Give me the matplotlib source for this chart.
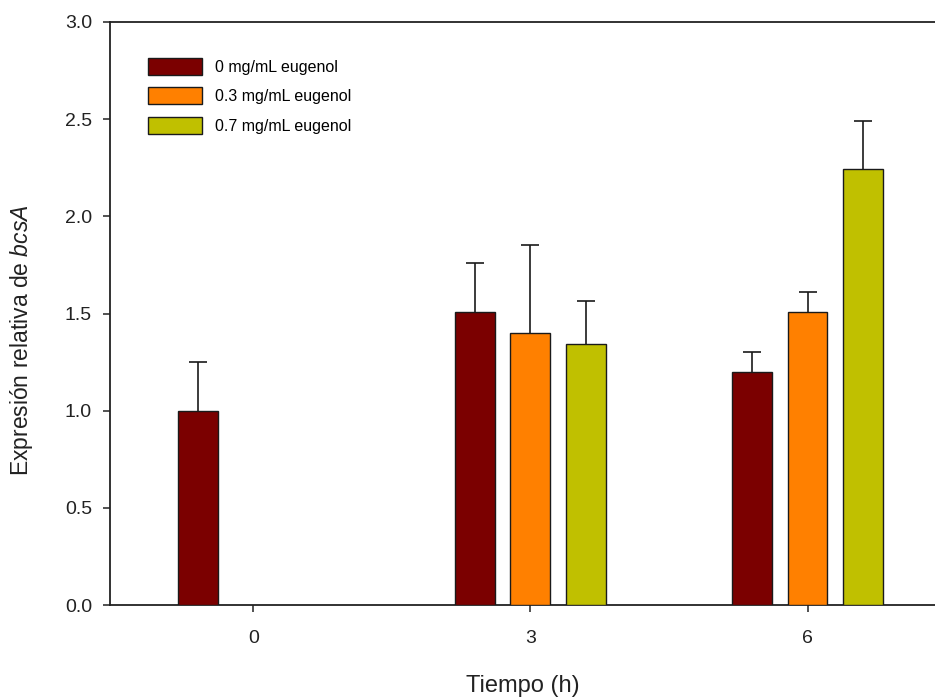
import numpy as np
import matplotlib
matplotlib.use("Agg")
import matplotlib.pyplot as plt

plt.rcParams["font.family"] = ["Liberation Sans", "DejaVu Sans"]
plt.rcParams["mathtext.fontset"] = "custom"
plt.rcParams["mathtext.it"] = "Liberation Sans:italic"
plt.rcParams["mathtext.rm"] = "Liberation Sans"

# data
times = [0, 3, 6]
series_labels = ["0 mg/mL eugenol", "0.3 mg/mL eugenol", "0.7 mg/mL eugenol"]
vals_0 = [1.00, 1.51, 1.20]
vals_03 = [np.nan, 1.40, 1.51]
vals_07 = [np.nan, 1.345, 2.245]
err_0 = [0.25, 0.25, 0.10]
err_03 = [np.nan, 0.45, 0.10]
err_07 = [np.nan, 0.22, 0.245]

colors = ["#7b0000", "#ff8000", "#c0c000"]
offsets = [-0.6, 0.0, 0.6]
width = 0.43

fig = plt.figure(figsize=(9.35, 7.0), dpi=100)
ax = fig.add_axes([110 / 935, 95 / 700, 825 / 935, 583 / 700])

x = np.array(times, dtype=float)
for vals, errs, col, off, lab in zip([vals_0, vals_03, vals_07],
                                     [err_0, err_03, err_07],
                                     colors, offsets, series_labels):
    v = np.array(vals)
    e = np.array(errs)
    m = ~np.isnan(v)
    xs = x[m] + off
    ax.bar(xs, v[m], width=width, color=col, edgecolor="#1a1a1a",
           linewidth=1.0, label=lab, zorder=3)
    # symmetric bars drawn behind the bars, so only the upper half shows
    ax.errorbar(xs, v[m], yerr=e[m], fmt="none", ecolor="#1a1a1a",
                elinewidth=1.2, capsize=6.8, capthick=1.2, zorder=2)

ax.set_xlim(-1.55, 7.38)
ax.set_ylim(0, 3.0)
ax.set_xticks(times)
ax.set_xticklabels([str(t) for t in times])
ax.set_yticks(np.arange(0, 3.01, 0.5))
ax.set_yticklabels([f"{t:.1f}" for t in np.arange(0, 3.01, 0.5)])
ax.tick_params(direction="out", length=5, width=1.1, labelsize=14,
               colors="#222222")
ax.tick_params(axis="x", pad=13)
ax.tick_params(axis="y", pad=8)

ax.spines["right"].set_visible(False)
for s in ["left", "bottom", "top"]:
    ax.spines[s].set_linewidth(1.3)
    ax.spines[s].set_color("#222222")

ax.set_xlabel("Tiempo (h)", fontsize=17, color="#222222", va="center")
ax.xaxis.set_label_coords(0.5, -0.139)
ax.set_ylabel(r"Expresión relativa de $\it{bcsA}$", fontsize=16.5,
              color="#222222", va="center")
ax.yaxis.set_label_coords(-0.107, 0.455)

ax.legend(loc="upper left", bbox_to_anchor=(0.046, 0.938), frameon=False,
          fontsize=11.5, handlelength=3.4, handleheight=1.25,
          labelspacing=0.78, handletextpad=0.8, borderpad=0,
          borderaxespad=0)

fig.savefig("out.png", dpi=100)
